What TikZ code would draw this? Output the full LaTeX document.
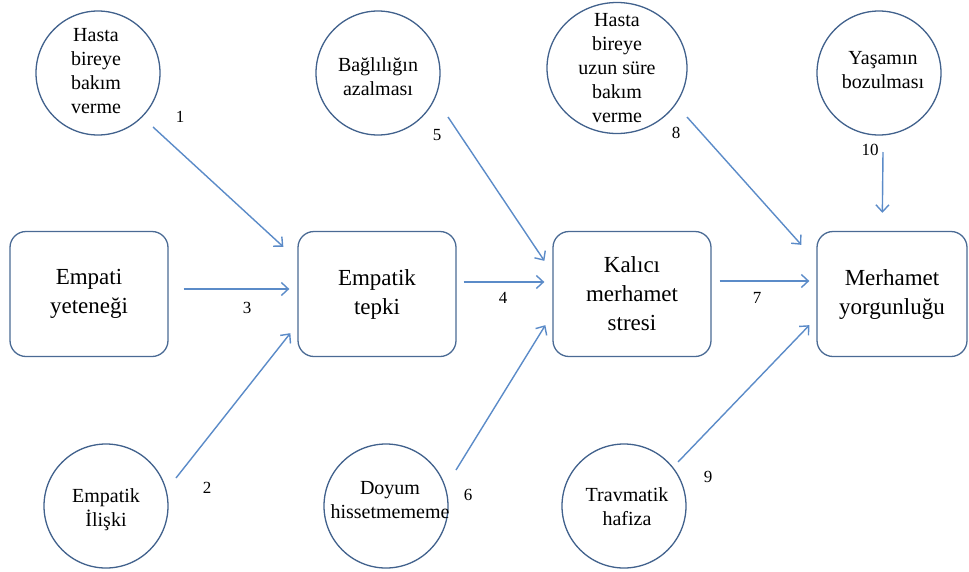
\documentclass[tikz,border=0pt]{standalone}
\usepackage{fontspec}
\setmainfont{Liberation Serif}
\usetikzlibrary{arrows.meta,calc,shapes.geometric}
\definecolor{circcol}{HTML}{41618C}
\definecolor{boxcol}{HTML}{4A6A94}
\definecolor{arrcol}{HTML}{5B8BC8}
\begin{document}
\begin{tikzpicture}[x=1pt,y=-1pt,
 boxnode/.style={draw=boxcol, line width=1.3pt, rounded corners=16pt, minimum width=158pt, minimum height=125pt, align=center, inner sep=0pt, font=\fontsize{23}{29}\selectfont},
 circnode/.style={draw=circcol, line width=1.3pt, circle, minimum size=124pt, inner sep=0pt},
 ctext/.style={align=center, inner sep=0pt, font=\fontsize{20}{24}\selectfont},
 numlbl/.style={inner sep=0pt, font=\fontsize{17}{20}\selectfont},
 arr/.style={draw=arrcol, line width=1.4pt, -{Straight Barb[length=7pt,width=13pt]}}]
\useasboundingbox (0,0) rectangle (969,571);

% boxes
\node[boxnode] (b1) at (89,294) {Empati\\yeteneği};
\node[boxnode] (b2) at (377,294) {Empatik\\tepki};
\node[boxnode] (b3) at (632,294) {Kalıcı\\merhamet\\stresi};
\node[boxnode, minimum width=150pt] (b4) at (892,294) {Merhamet\\yorgunluğu};

% circles
\node[circnode, label={[ctext, xshift=-2pt, yshift=2pt]center:{Hasta\\bireye\\bakım\\verme}}] (c1) at (98,73) {};
\node[circnode, label={[ctext, yshift=-4pt]center:{Bağlılığın\\azalması}}] (c5) at (378,73) {};
\node[circnode, ellipse, minimum width=140pt, minimum height=131pt, label={[ctext]center:{Hasta\\bireye\\uzun süre\\bakım\\verme}}] (c8) at (617,68) {};
\node[circnode, label={[ctext, xshift=4pt, yshift=3pt]center:{Yaşamın\\bozulması}}] (c10) at (879,73) {};
\node[circnode, label={[ctext, yshift=-4pt]center:{Empatik\\İlişki}}] (c2) at (106,506) {};
\node[circnode, label={[ctext, xshift=4pt, yshift=6pt]center:{Doyum\\hissetmememe}}] (c6) at (386,506) {};
\node[circnode, label={[ctext, xshift=3pt, yshift=-1pt]center:{Travmatik\\hafiza}}] (c9) at (624,506) {};

% arrows
\draw[arr] ($(c1)+(55,54)$) -- ($(b2.north west)+(-14,16)$);
\draw[arr] ($(c2)+(70,-28)$) -- ($(b2.south west)+(-7,-24)$);
\draw[arr] ($(b1.east)+(15,-5)$) -- ($(b2.west)+(-8,-5)$);
\draw[arr] ($(b2.east)+(7,-12)$) -- ($(b3.west)+(-8,-12)$);
\draw[arr] ($(c5)+(70,44)$) -- ($(b3.north west)+(-8,30)$);
\draw[arr] ($(c6)+(70,-36)$) -- ($(b3.south west)+(-7,-32)$);
\draw[arr] ($(b3.east)+(8,-13)$) -- ($(b4.west)+(-7,-13)$);
\draw[arr] ($(c8)+(70,49)$) -- ($(b4.north west)+(-15,14)$);
\draw[arr] ($(c9)+(54,-44)$) -- ($(b4.south west)+(-7,-32)$);
\draw[arr] ($(c10)+(4,79)$) -- ($(b4.north west)+(66,-18)$);

% number labels
\node[numlbl] (n1) at (180,117) {1};
\node[numlbl] (n2) at (207,488) {2};
\node[numlbl] (n3) at (247,308) {3};
\node[numlbl] (n4) at (503,298) {4};
\node[numlbl] (n5) at (437,135) {5};
\node[numlbl] (n6) at (468,495) {6};
\node[numlbl] (n7) at (757,298) {7};
\node[numlbl] (n8) at (676,133) {8};
\node[numlbl] (n9) at (708,477) {9};
\node[numlbl] (n10) at (870,150) {10};
\end{tikzpicture}
\end{document}
